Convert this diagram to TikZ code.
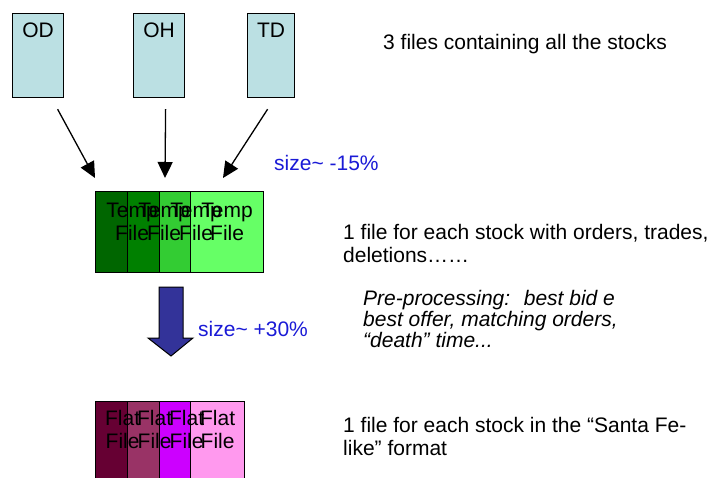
\documentclass[tikz,border=0pt]{standalone}
\usepackage{fontspec}
\setmainfont{Liberation Sans}
\usetikzlibrary{arrows.meta}
\definecolor{srcblue}{RGB}{187,224,227}
\definecolor{tempA}{RGB}{0,102,0}
\definecolor{tempB}{RGB}{0,128,0}
\definecolor{tempC}{RGB}{51,204,51}
\definecolor{tempD}{RGB}{102,255,102}
\definecolor{flatA}{RGB}{102,0,51}
\definecolor{flatB}{RGB}{153,51,102}
\definecolor{flatC}{RGB}{204,0,255}
\definecolor{flatD}{RGB}{255,153,238}
\definecolor{sizeblue}{RGB}{26,26,214}
\definecolor{bigarrow}{RGB}{51,51,153}
\begin{document}
\begin{tikzpicture}[x=1pt, y=-1pt, font=\fontsize{21}{23}\selectfont,
    filebox/.style={draw, line width=1.2pt, anchor=north west, inner sep=0pt},
    boxtext/.style={anchor=base, inner sep=0pt, align=center},
    feed/.style={-{Triangle[length=16pt,width=15pt]}, line width=1.3pt},
    note/.style={anchor=base west, align=left, inner sep=0pt}]
    \useasboundingbox (0,0) rectangle (708,478);
    \clip (0,0) rectangle (708,478);

    % source files
    \node[filebox, fill=srcblue, minimum width=51pt, minimum height=84pt] (od) at (12,13) {};
    \node[filebox, fill=srcblue, minimum width=51pt, minimum height=84pt] (oh) at (133,13) {};
    \node[filebox, fill=srcblue, minimum width=47pt, minimum height=84pt] (td) at (247,13) {};
    \foreach \n/\t in {od/OD, oh/OH, td/TD}
        \node[boxtext] (\n Text) at ([yshift=-25pt]\n.north) {\t};
    \node[note] (srcNote) at (383,50) {3 files containing all the stocks};

    % temp files (base = last line)
    \foreach \i/\x/\c in {1/95/tempA, 2/127/tempB, 3/159/tempC, 4/190/tempD}
        \node[filebox, fill=\c, minimum width=73pt, minimum height=81pt] (temp\i) at (\x,191) {};
    \foreach \i in {1,...,4}
        \node[boxtext] (temp\i Text) at ([yshift=-49pt]temp\i.north) {Temp\\File};

    % arrows into the temp files
    \coordinate (odTip) at (95,178);
    \coordinate (ohTip) at (165,178);
    \coordinate (tdTip) at (223,178);
    \draw[feed] ([shift={(19.5,11)}]od.south) -- (odTip);
    \draw[feed] ([shift={(6.5,11)}]oh.south) -- (ohTip);
    \draw[feed] ([shift={(-3.5,11)}]td.south) -- (tdTip);
    \node[note, text=sizeblue] (shrink) at (274,171) {size\textasciitilde{} -15\%};
    \node[note] (tempNote) at (343,262) {1 file for each stock with orders, trades,\\deletions……};

    % pre-processing
    \draw[fill=bigarrow, line width=1pt] (159,287) -- (183,287) -- (183,338) -- (193,338)
        -- (171,356) -- (148,338) -- (159,338) -- cycle;
    \node[note, text=sizeblue] (grow) at (198,336) {size\textasciitilde{} +30\%};
    \node[note, font=\fontsize{21}{21}\selectfont\itshape] (prepNote) at (363,347)
        {Pre-processing:~ best bid e\\best offer, matching orders,\\“death” time...};

    % flat files
    \foreach \i/\x/\c in {1/95/flatA, 2/127/flatB, 3/159/flatC, 4/190/flatD}
        \node[filebox, fill=\c, minimum width=54pt, minimum height=100pt] (flat\i) at (\x,401) {};
    \foreach \i in {1,...,4}
        \node[boxtext] (flat\i Text) at ([yshift=-47pt]flat\i.north) {Flat\\File};
    \node[note] (flatNote) at (343,455) {1 file for each stock in the “Santa Fe-\\like” format};
\end{tikzpicture}
\end{document}
